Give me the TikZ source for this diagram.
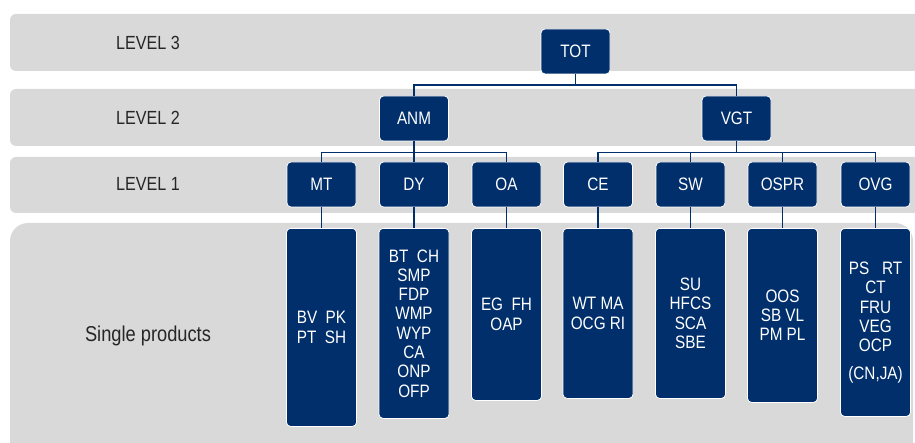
\documentclass[tikz,border=0pt]{standalone}
\usepackage{fontspec}
\setmainfont{Liberation Sans}[FakeStretch=0.85]
\definecolor{navy}{RGB}{0,47,108}
\definecolor{bandgray}{RGB}{217,217,217}

\begin{document}
\begin{tikzpicture}[x=1pt,y=-1pt,line width=1.2pt]
\tikzset{
  box/.style={fill=navy,draw=white,line width=0.8pt,rounded corners=4pt,text=white,
    minimum width=69pt,minimum height=45pt,inner sep=0pt,
    font=\fontsize{18}{19.3}\selectfont},
  spbox/.style={box,anchor=north,align=center,minimum width=70pt},
  lab/.style={text=black!85,font=\fontsize{19}{22}\selectfont},
  link/.style={draw=navy,line width=1.3pt}
}
\clip (0,0) rectangle (915,443);
% ---------- bands ----------
\fill[bandgray,rounded corners=6pt] (10,14)  rectangle (940,71);
\fill[bandgray,rounded corners=6pt] (10,89)  rectangle (940,146);
\fill[bandgray,rounded corners=6pt] (10,157) rectangle (940,213);
\fill[bandgray,rounded corners=18pt] (10,223) rectangle (913,480);
\node[lab] (l3) at (148,43)  {LEVEL 3};
\node[lab] (l2) at (148,118) {LEVEL 2};
\node[lab] (l1) at (148,184) {LEVEL 1};
\node[lab,font=\fontsize{21.5}{24}\selectfont] (sp) at (148,336) {Single products};
% ---------- level 3 / level 2 ----------
\node[box] (tot) at (575.5,51.5) {TOT};
\node[box] (anm) at (414,118.5)  {ANM};
\node[box] (vgt) at (736.5,118.5) {VGT};
% ---------- level 1 ----------
\node[box] (mt)   at (321.5,184.5) {MT};
\node[box] (dy)   at (414,184.5)   {DY};
\node[box] (oa)   at (506.5,184.5) {OA};
\node[box] (ce)   at (598,184.5)   {CE};
\node[box] (sw)   at (690.5,184.5) {SW};
\node[box] (ospr) at (782.5,184.5) {OSPR};
\node[box] (ovg)  at (875.5,184.5) {OVG};
% ---------- single products ----------
\node[spbox,minimum height=198pt] (p-mt)   at (321.5,228) {BV~ PK\\PT~ SH};
\node[spbox,minimum height=190pt] (p-dy)   at (414,228)   {BT~ CH\\SMP\\FDP\\WMP\\WYP\\CA\\ONP\\OFP};
\node[spbox,minimum height=172pt] (p-oa)   at (506.5,228) {EG~ FH\\OAP};
\node[spbox,minimum height=170pt] (p-ce)   at (598,228)   {WT MA\\OCG RI};
\node[spbox,minimum height=170pt] (p-sw)   at (690.5,228) {SU\\HFCS\\SCA\\SBE};
\node[spbox,minimum height=174pt] (p-ospr) at (782.5,228) {OOS\\SB VL\\PM PL};
\node[spbox,minimum height=188pt] (p-ovg)  at (875.5,228) {PS~~ RT\\CT\\FRU\\VEG\\OCP\\[8pt](CN,JA)};
% ---------- connectors ----------
\coordinate (bus3) at (575.5,85);
\draw[link] (tot.south) -- (bus3);
\draw[link] (anm.north) |- (bus3) -| (vgt.north);
\foreach \c in {mt,dy,oa}
  \draw[link] (anm.south) -- ++(0,11) -| (\c.north);
\foreach \c in {ce,sw,ospr,ovg}
  \draw[link] (vgt.south) -- ++(0,11) -| (\c.north);
\foreach \c in {mt,dy,oa,ce,sw,ospr,ovg}
  \draw[link] (\c.south) -- (p-\c.north);
\end{tikzpicture}
\end{document}
